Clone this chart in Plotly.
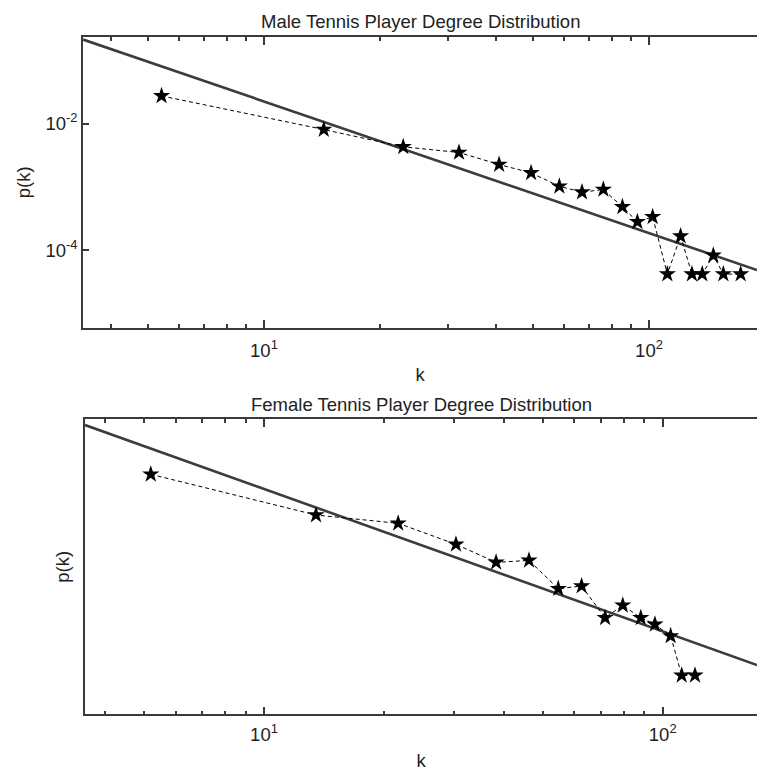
import plotly.graph_objects as go

# ---------------- data ----------------
male_k = [5.42, 14.3, 23.0, 32.1, 40.8, 49.4, 58.5, 67.0, 76.1, 85.3, 93.3,
          102.2, 111.6, 120.8, 129.3, 137.5, 146.9, 156.0, 173.0]
male_p = [0.0273, 0.00804, 0.00428, 0.00349, 0.00225, 0.00166, 0.00102, 0.000823,
          0.000908, 0.000483, 0.00028, 0.000336, 4.18e-5, 0.000166, 4.18e-5,
          4.18e-5, 8.24e-5, 4.18e-5, 4.18e-5]
male_fit_k = [3.39, 190.8]
male_fit_p = [0.212, 4.84e-5]

female_k = [5.20, 13.5, 21.7, 30.3, 38.2, 46.2, 54.7, 62.6, 71.7, 79.4, 88.1,
            95.6, 104.7, 111.6, 120.5]
female_p = [0.0346, 0.00868, 0.00655, 0.00321, 0.00174, 0.00186, 0.000711, 0.000778,
            0.000265, 0.000405, 0.000265, 0.000212, 0.000143, 3.75e-5, 3.75e-5]
female_fit_k = [3.556, 172.4]
female_fit_p = [0.1845, 5.32e-5]

x_major = [10, 100]
x_major_text = ["10<sup>1</sup>", "10<sup>2</sup>"]
x_minor = [4, 5, 6, 7, 8, 9, 20, 30, 40, 50, 60, 70, 80, 90]
y_major = [1e-2, 1e-4]
y_major_text = ["10<sup>-2</sup>", "10<sup>-4</sup>"]

titles = ["Male Tennis Player Degree Distribution",
          "Female Tennis Player Degree Distribution"]

# ---------------- styling ----------------
W, H = 757, 771
FONT = "Liberation Sans, Arial, sans-serif"
AX = "#3a3a3a"
FITC = "#3c3c3c"
FS = 18.5
TXT = "#222"

fig = go.Figure()

def add_panel(k, p, fk, fp, xa, ya):
    fig.add_trace(go.Scatter(x=fk, y=fp, mode="lines", xaxis=xa, yaxis=ya,
                             line=dict(color=FITC, width=2.6), showlegend=False,
                             hoverinfo="skip"))
    fig.add_trace(go.Scatter(x=k, y=p, mode="lines+markers", xaxis=xa, yaxis=ya,
                             line=dict(color="black", width=1, dash="4px,3px"),
                             marker=dict(symbol="star", size=13, color="black",
                                         line=dict(width=0)),
                             showlegend=False))

add_panel(male_k, male_p, male_fit_k, male_fit_p, "x", "y")
add_panel(female_k, female_p, female_fit_k, female_fit_p, "x2", "y2")

def xaxis_cfg(dom, anchor, rng, lab_off, title_off):
    return dict(domain=dom, anchor=anchor, type="log", range=rng,
                tickvals=x_major, ticktext=x_major_text,
                ticks="inside", ticklen=8, tickwidth=1.5, tickcolor=AX,
                ticklabelstandoff=lab_off,
                showline=True, linecolor=AX, linewidth=1.5, mirror="ticks",
                showgrid=False, zeroline=False,
                minor=dict(tickvals=x_minor, ticks="inside", ticklen=4,
                           tickwidth=1.5, tickcolor=AX, showgrid=False),
                tickfont=dict(family=FONT, size=FS, color=TXT),
                title=dict(text="k", font=dict(family=FONT, size=FS, color=TXT),
                           standoff=title_off))

male_top, male_bot = 37, 327.7
fem_top, fem_bot = 419.3, 714.3

fig.update_layout(
    width=W, height=H,
    margin=dict(l=0, r=0, t=0, b=0),
    paper_bgcolor="white", plot_bgcolor="white",
    font=dict(family=FONT, size=FS, color=TXT),
    xaxis=xaxis_cfg([83 / W, 1], "y", [0.530, 2.2805], 5, 8),
    xaxis2=xaxis_cfg([85 / W, 1], "y2", [0.551, 2.2365], 3, 12),
    yaxis=dict(domain=[1 - male_bot / H, 1 - male_top / H], anchor="x",
               type="log", range=[-5.226, -0.633],
               tickvals=y_major, ticktext=y_major_text,
               ticks="inside", ticklen=6, tickwidth=1.5, tickcolor=AX,
               showline=True, linecolor=AX, linewidth=1.5, mirror=False,
               showgrid=False, zeroline=False,
               tickfont=dict(family=FONT, size=FS, color=TXT),
               title=dict(text="p(k)", font=dict(family=FONT, size=FS, color=TXT),
                          standoff=10)),
    yaxis3=dict(overlaying="y", side="right", anchor="x",
                type="log", range=[-5.226, -0.633],
                tickvals=y_major, ticks="inside", ticklen=6, tickwidth=1.5,
                tickcolor=AX, showticklabels=False, showline=False,
                showgrid=False, zeroline=False),
    yaxis2=dict(domain=[1 - fem_bot / H, 1 - fem_top / H], anchor="x2",
                type="log", range=[-5.0, -0.65],
                ticks="", showticklabels=False,
                showline=True, linecolor=AX, linewidth=1.5, mirror=False,
                showgrid=False, zeroline=False,
                title=dict(text="p(k)", font=dict(family=FONT, size=FS, color=TXT),
                           standoff=9)),
)

fig.add_annotation(text=titles[0], xref="paper", yref="paper",
                   x=(83 + W) / 2 / W, y=1 - male_top / H,
                   xanchor="center", yanchor="bottom", yshift=3, showarrow=False,
                   font=dict(family=FONT, size=FS, color=TXT))
fig.add_annotation(text=titles[1], xref="paper", yref="paper",
                   x=(85 + W) / 2 / W, y=1 - fem_top / H,
                   xanchor="center", yanchor="bottom", yshift=2, showarrow=False,
                   font=dict(family=FONT, size=FS, color=TXT))

fig.write_html("out.html",
               config={"displayModeBar": False},
               post_script="document.body.style.margin='0px';"
                           "document.body.style.overflow='hidden';")
